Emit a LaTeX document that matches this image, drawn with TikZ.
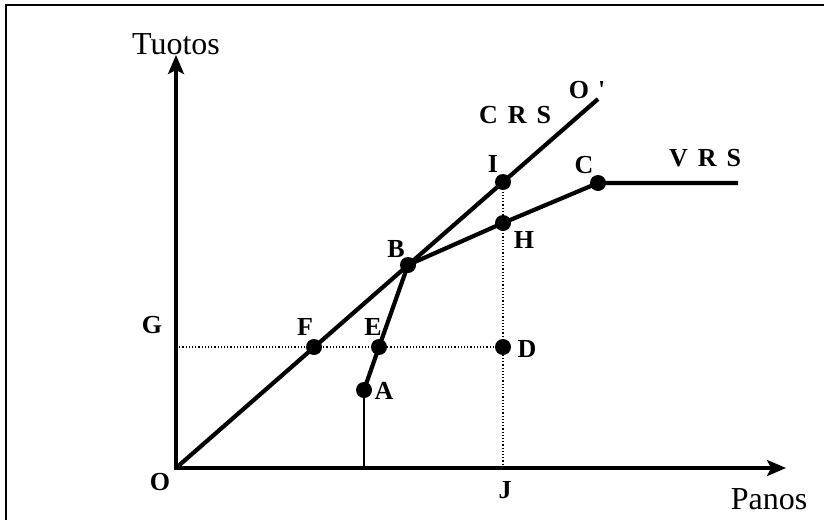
\documentclass[tikz,border=0pt]{standalone}
\usepackage{fontspec}
\setmainfont{Liberation Serif}
\usetikzlibrary{arrows.meta}
\begin{document}
\begin{tikzpicture}[x=1pt,y=-1pt,
  dot/.style={circle,fill=black,inner sep=0pt,minimum size=16pt},
  lbl/.style={font=\fontsize{26}{26}\selectfont\bfseries,inner sep=0pt},
  axlbl/.style={font=\fontsize{32}{32}\selectfont,inner sep=0pt},
  curve/.style={line width=4.2pt},
  stem/.style={line width=2.6pt},
  axisline/.style={line width=3.2pt,{Stealth[length=19pt,width=16pt,inset=4pt]}-{Stealth[length=19pt,width=16pt,inset=4pt]}},
  guide/.style={line width=1.2pt,dotted},
  frame/.style={line width=2.2pt}]
\useasboundingbox (0,0) rectangle (824,520);
% frame
\coordinate (FrTR) at (824,5);
\coordinate (FrTL) at (6,5);
\coordinate (FrBL) at (6,520);
\draw[frame] (FrTR) -- (FrTL) -- (FrBL);
% key coordinates
\coordinate (O) at (176,468);
\coordinate (Ytip) at (176,55);
\coordinate (Xtip) at (786,468);
\coordinate (Oend) at (598,99);
\coordinate (Vend) at (738,183);
\coordinate (Afoot) at (364,468);
\coordinate (Jfoot) at (503,468);
\coordinate (Gpt) at (176,347);
% dots
\node[dot] (F) at (314,347) {};
\node[dot] (E) at (379,347) {};
\node[dot] (D) at (503,347) {};
\node[dot] (A) at (364,390) {};
\node[dot] (B) at (408,265) {};
\node[dot] (I) at (503,182) {};
\node[dot] (H) at (503,223) {};
\node[dot] (C) at (598,183) {};
% guides
\draw[guide] (Gpt) -- (D.center);
\draw[guide] (I.center) -- (Jfoot);
% curves
\draw[curve] (O) -- (Oend);
\draw[stem] (Afoot) -- (A.center);
\draw[curve,line join=round] (A.center) -- (E.center) -- (B.center) -- (H.center) -- (C.center) -- (Vend);
% axes
\draw[axisline] (Ytip) -- (O) -- (Xtip);
% labels
\node[axlbl,anchor=base] (tuotos) at (176,54) {Tuotos};
\node[axlbl,anchor=base] (panos) at (769,509) {Panos};
\node[lbl] (lO) at (160,482) {O};
\node[lbl] (lJ) at (505,490) {J};
\node[lbl] (lG) at (152,325) {G};
\node[lbl] (lF) at (305,327) {F};
\node[lbl] (lE) at (373,327) {E};
\node[lbl] (lD) at (527,349) {D};
\node[lbl] (lA) at (384,391) {A};
\node[lbl] (lB) at (396,249) {B};
\node[lbl] (lI) at (493,164) {I};
\node[lbl] (lH) at (524,240) {H};
\node[lbl] (lC) at (584,165) {C};
\node[lbl] (lCRS) at (515,115) {C\hspace{10pt}R\hspace{10pt}S};
\node[lbl] (lVRS) at (705,158) {V\hspace{10pt}R\hspace{10pt}S};
\node[lbl] (lOp) at (587,90) {O\hspace{9pt}\textquotesingle};
\end{tikzpicture}
\end{document}
